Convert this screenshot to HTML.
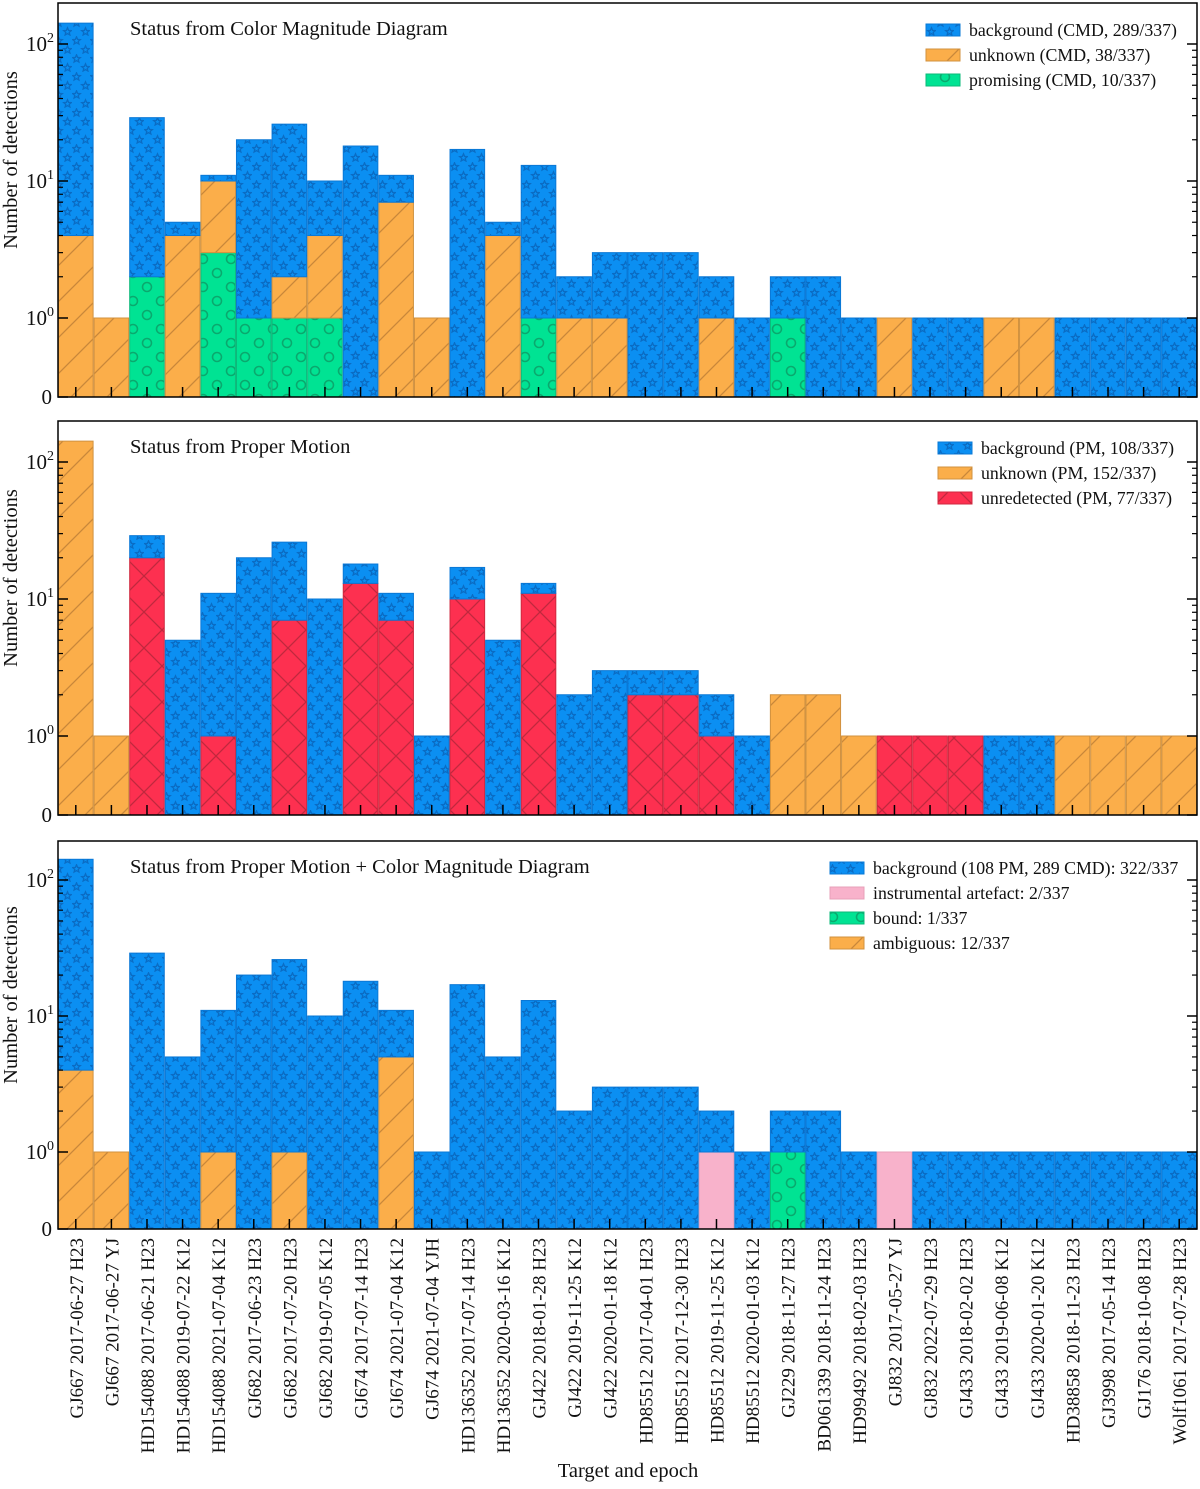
<!DOCTYPE html>
<html><head><meta charset="utf-8"><style>
body{margin:0;background:#fff}
svg text{font-family:"Liberation Serif",serif;fill:#111}
</style></head><body>
<svg id="chart" width="1200" height="1484" xmlns="http://www.w3.org/2000/svg">
<defs>
<pattern id="pStar" patternUnits="userSpaceOnUse" width="18" height="18">
<rect width="18" height="18" fill="#0b8ff2"/>
<polygon points="4.5,0.8 5.6,3.4 8.3,3.6 6.2,5.4 6.9,8 4.5,6.6 2.1,8 2.8,5.4 0.7,3.6 3.4,3.4" fill="none" stroke="#0a6cc4" stroke-width="1.3"/>
<polygon points="13.5,9.8 14.6,12.4 17.3,12.6 15.2,14.4 15.9,17 13.5,15.6 11.1,17 11.8,14.4 9.7,12.6 12.4,12.4" fill="none" stroke="#0a6cc4" stroke-width="1.3"/>
</pattern>
<pattern id="pHatch" patternUnits="userSpaceOnUse" width="36" height="36">
<rect width="36" height="36" fill="#fbae4a"/>
<path d="M0,36 L36,0 M-4,4 L4,-4 M32,40 L40,32" stroke="#c9873a" stroke-width="1.3"/>
</pattern>
<pattern id="pCirc" patternUnits="userSpaceOnUse" width="28" height="28">
<rect width="28" height="28" fill="#00e393"/>
<circle cx="7" cy="7" r="4.5" fill="none" stroke="#0aa96e" stroke-width="1.6"/>
<circle cx="21" cy="21" r="4.5" fill="none" stroke="#0aa96e" stroke-width="1.6"/>
</pattern>
<pattern id="pCross" patternUnits="userSpaceOnUse" width="36" height="36">
<rect width="36" height="36" fill="#fd3050"/>
<path d="M0,0 L36,36 M0,36 L36,0" stroke="#c0283e" stroke-width="1.3"/>
</pattern>
</defs>
</svg>
<script>
const categories=["GJ667 2017-06-27 H23","GJ667 2017-06-27 YJ","HD154088 2017-06-21 H23","HD154088 2019-07-22 K12","HD154088 2021-07-04 K12","GJ682 2017-06-23 H23","GJ682 2017-07-20 H23","GJ682 2019-07-05 K12","GJ674 2017-07-14 H23","GJ674 2021-07-04 K12","GJ674 2021-07-04 YJH","HD136352 2017-07-14 H23","HD136352 2020-03-16 K12","GJ422 2018-01-28 H23","GJ422 2019-11-25 K12","GJ422 2020-01-18 K12","HD85512 2017-04-01 H23","HD85512 2017-12-30 H23","HD85512 2019-11-25 K12","HD85512 2020-01-03 K12","GJ229 2018-11-27 H23","BD061339 2018-11-24 H23","HD99492 2018-02-03 H23","GJ832 2017-05-27 YJ","GJ832 2022-07-29 H23","GJ433 2018-02-02 H23","GJ433 2019-06-08 K12","GJ433 2020-01-20 K12","HD38858 2018-11-23 H23","GJ3998 2017-05-14 H23","GJ176 2018-10-08 H23","Wolf1061 2017-07-28 H23"];
// Panel 1 (CMD), stacked bottom->top: promising, unknown, background
const cmdPromising=[0,0,2,0,3,1,1,1,0,0,0,0,0,1,0,0,0,0,0,0,1,0,0,0,0,0,0,0,0,0,0,0];
const cmdUnknown=[4,1,0,4,7,0,1,3,0,7,1,0,4,0,1,1,0,0,1,0,0,0,0,1,0,0,1,1,0,0,0,0];
const cmdBackground=[138,0,27,1,1,19,24,6,18,4,0,17,1,12,1,2,3,3,1,1,1,2,1,0,1,1,0,0,1,1,1,1];
// Panel 2 (PM), bottom->top: unredetected, unknown, background
const pmUnredetected=[0,0,20,0,1,0,7,0,13,7,0,10,0,11,0,0,2,2,1,0,0,0,0,1,1,1,0,0,0,0,0,0];
const pmUnknown=[142,1,0,0,0,0,0,0,0,0,0,0,0,0,0,0,0,0,0,0,2,2,1,0,0,0,0,0,1,1,1,1];
const pmBackground=[0,0,9,5,10,20,19,10,5,4,1,7,5,2,2,3,1,1,1,1,0,0,0,0,0,0,1,1,0,0,0,0];
// Panel 3 (combined), bottom->top: ambiguous, artefact, bound, background
const combAmbiguous=[4,1,0,0,1,0,1,0,0,5,0,0,0,0,0,0,0,0,0,0,0,0,0,0,0,0,0,0,0,0,0,0];
const combArtefact=[0,0,0,0,0,0,0,0,0,0,0,0,0,0,0,0,0,0,1,0,0,0,0,1,0,0,0,0,0,0,0,0];
const combBound=[0,0,0,0,0,0,0,0,0,0,0,0,0,0,0,0,0,0,0,0,1,0,0,0,0,0,0,0,0,0,0,0];
const combBackground=[138,0,29,5,10,20,25,10,18,6,1,17,5,13,2,3,3,3,1,1,1,2,1,0,1,1,1,1,1,1,1,1];
const yTickLabels=["0","10","10","10"];
const yTickExps=["","0","1","2"];

const NS="http://www.w3.org/2000/svg";
const svg=document.getElementById('chart');
function el(tag,attrs,parent){const e=document.createElementNS(NS,tag);for(const k in attrs)e.setAttribute(k,attrs[k]);(parent||svg).appendChild(e);return e;}
const X0=58,X1=1197,N=categories.length,BW=(X1-X0)/N;
const xPos=i=>X0+i*BW;
const styles={
 bg:{fill:"url(#pStar)",stroke:"#0a78d6"},
 or:{fill:"url(#pHatch)",stroke:"#d0913f"},
 gr:{fill:"url(#pCirc)",stroke:"#0bb97a"},
 rd:{fill:"url(#pCross)",stroke:"#d0283f"},
 pk:{fill:"#f8b2cb",stroke:"#e7a0b8"}
};
const panels=[
 {name:"cmd",top:3,bottom:397,y1:318,dec:137,title:"Status from Color Magnitude Diagram",
  series:[[cmdPromising,"gr","promising"],[cmdUnknown,"or","unknown"],[cmdBackground,"bg","background"]],
  legend:{x:926,y:24,items:[["bg","background (CMD, 289/337)"],["or","unknown (CMD, 38/337)"],["gr","promising (CMD, 10/337)"]]}},
 {name:"pm",top:421,bottom:815,y1:736,dec:137,title:"Status from Proper Motion",
  series:[[pmUnredetected,"rd","unredetected"],[pmUnknown,"or","unknown"],[pmBackground,"bg","background"]],
  legend:{x:938,y:442,items:[["bg","background (PM, 108/337)"],["or","unknown (PM, 152/337)"],["rd","unredetected (PM, 77/337)"]]}},
 {name:"combined",top:841,bottom:1229,y1:1152,dec:136,title:"Status from Proper Motion + Color Magnitude Diagram",
  series:[[combAmbiguous,"or","ambiguous"],[combArtefact,"pk","artefact"],[combBound,"gr","bound"],[combBackground,"bg","background"]],
  legend:{x:830,y:862,items:[["bg","background (108 PM, 289 CMD): 322/337"],["pk","instrumental artefact: 2/337"],["gr","bound: 1/337"],["or","ambiguous: 12/337"]]}}
];
panels.forEach(p=>{
 const yScale=v=>v<=1?p.bottom-(p.bottom-p.y1)*v:p.y1-p.dec*Math.log10(v);
 const g=el('g',{});
 
 
 const cum=new Array(N).fill(0);
 p.series.forEach(([arr,st,nm])=>{
  arr.forEach((v,i)=>{
   if(v<=0)return;
   const a=cum[i],b=cum[i]+v;cum[i]=b;
   const yt=yScale(b),yb=yScale(a);
   const r=el('rect',{x:xPos(i)+0.5,y:yt,width:BW-1,height:yb-yt,fill:styles[st].fill,stroke:styles[st].stroke,'stroke-width':1},g);
   
   
  });
 });
 const fr=el('rect',{x:X0,y:p.top,width:X1-X0,height:p.bottom-p.top,fill:'none',stroke:'#000','stroke-width':1.5},g);
 
 
 for(let i=0;i<N;i++){const x=xPos(i)+BW/2;el('line',{x1:x,x2:x,y1:p.bottom,y2:p.bottom-10,stroke:'#000','stroke-width':1.5},g);}
 const majors=[0,1,10,100];
 majors.forEach((v,k)=>{
  const y=yScale(v);
  el('line',{x1:X0,x2:X0+10,y1:y,y2:y,stroke:'#000','stroke-width':1.5},g);
  el('line',{x1:X1,x2:X1-10,y1:y,y2:y,stroke:'#000','stroke-width':1.5},g);
  const t=el('text',{x:k==0?52:54,y:y+7,'font-size':21,'text-anchor':'end'},g);
  t.textContent=yTickLabels[k];
  
  
  if(yTickExps[k]){const s=el('tspan',{dy:-9,'font-size':14},t);s.textContent=yTickExps[k];}
 });
 [1,10,100].forEach(d=>{for(let m=2;m<=9;m++){const v=d*m;const y=yScale(v);if(y<p.top)continue;
  el('line',{x1:X0,x2:X0+5,y1:y,y2:y,stroke:'#000','stroke-width':1.2},g);
  el('line',{x1:X1,x2:X1-5,y1:y,y2:y,stroke:'#000','stroke-width':1.2},g);}});
 const tt=el('text',{x:130,y:p.top+32,'font-size':20.5},g);
 tt.textContent=p.title;
 
 
 const yl=el('text',{x:0,y:0,'font-size':20.5,'text-anchor':'middle',transform:`translate(17,${(p.top+p.bottom)/2-40}) rotate(-90)`},g);
 yl.textContent='Number of detections';
 
 
 p.legend.items.forEach(([st,lab],j)=>{
  const y=p.legend.y+j*25;
  const r=el('rect',{x:p.legend.x,y:y,width:34,height:12,fill:styles[st].fill,stroke:styles[st].stroke,'stroke-width':1},g);
  
  
  const t=el('text',{x:p.legend.x+43,y:y+12,'font-size':17.8},g);
  t.textContent=lab;
  
  
 });
});
categories.forEach((c,i)=>{
 const x=xPos(i)+BW/2+7;
 const t=el('text',{x:0,y:0,'font-size':19,'text-anchor':'end',transform:`translate(${x},1238) rotate(-90)`});
 t.textContent=c;
 
 
});
const xl=el('text',{x:628,y:1477,'font-size':20.5,'text-anchor':'middle'});
xl.textContent='Target and epoch';


</script>
</body></html>
